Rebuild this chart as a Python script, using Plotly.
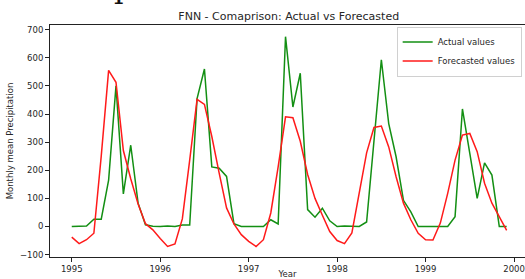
import plotly.graph_objects as go

years = [1995 + m / 12 for m in range(60)]

actual = [0, 0, 2, 26, 26, 165, 500, 116, 289, 83, 6, 1,
          0, 2, 0, 5, 5, 455, 560, 212, 207, 178, 10, 0,
          0, 0, 0, 24, 9, 675, 425, 545, 60, 33, 65, 20,
          0, 2, 0, 0, 16, 310, 593, 366, 248, 93, 52, 0,
          0, 0, 0, 0, 35, 418, 260, 100, 226, 183, 0, 0]

forecast = [-38, -61, -47, -24, 250, 555, 513, 270, 170, 80, 10, -12,
            -43, -71, -62, 27, 236, 452, 434, 320, 190, 66, 9, -29,
            -53, -71, -47, 48, 212, 390, 387, 303, 185, 100, 40, -18,
            -50, -61, -23, 119, 262, 352, 357, 283, 177, 83, 24, -24,
            -47, -48, 12, 118, 236, 325, 331, 266, 154, 83, 35, -14]

x_ticks = [1995, 1996, 1997, 1998, 1999, 2000]
y_ticks = [-100, 0, 100, 200, 300, 400, 500, 600, 700]

FONT = "DejaVu Sans"
TXT = "#262626"
FS = 8.5

fig = go.Figure()
fig.add_trace(go.Scatter(x=years, y=actual, mode="lines", name="Actual values",
                         line=dict(color="#138f13", width=1.5)))
fig.add_trace(go.Scatter(x=years, y=forecast, mode="lines", name="Forecasted values",
                         line=dict(color="#ff1a1a", width=1.5)))

fig.update_layout(
    width=525, height=279,
    margin=dict(l=50, r=0, t=25, b=22),
    paper_bgcolor="white", plot_bgcolor="white",
    font=dict(family=FONT, size=FS, color=TXT),
    title=dict(text="FNN - Comaprison: Actual vs Forecasted", x=0.55, xanchor="center",
               y=1 - 16 / 279, yanchor="middle", font=dict(size=11, color=TXT)),
    legend=dict(x=0.993, xanchor="right", y=0.993, yanchor="top",
                bgcolor="rgba(255,255,255,0.8)", bordercolor="#d0d0d0", borderwidth=1,
                font=dict(size=FS, color=TXT), itemwidth=30, tracegroupgap=0),
    showlegend=True,
)
fig.update_xaxes(range=[1994.754, 2000.124], tickvals=x_ticks, ticktext=[str(v) for v in x_ticks],
                 automargin=False,
                 showgrid=False, zeroline=False, showline=True, linecolor="#222", linewidth=1,
                 mirror=True, ticks="outside", ticklen=4, tickwidth=1, tickcolor="#222",
                 tickfont=dict(size=FS, color=TXT),
                 title=dict(text="Year", standoff=5, font=dict(size=FS, color=TXT)))
fig.update_yaxes(range=[-108.5, 716.5], tickvals=y_ticks,
                 ticktext=[("\u2212100" if v < 0 else str(v)) for v in y_ticks],
                 automargin=False,
                 showgrid=False, zeroline=False, showline=True, linecolor="#222", linewidth=1,
                 mirror=True, ticks="outside", ticklen=4, tickwidth=1, tickcolor="#222",
                 tickfont=dict(size=FS, color=TXT),
                 title=dict(text="Monthly mean Precipitation", standoff=4, font=dict(size=FS, color=TXT)))

fig.add_annotation(text="p", xref="paper", yref="paper", x=(123 - 50) / 475, y=1 + 37 / 232,
                   xanchor="center", yanchor="middle", showarrow=False,
                   font=dict(family="DejaVu Serif", size=30, color="#111"))

fig.write_html("out.html", config={"displayModeBar": False},
               post_script="document.body.style.margin='0';document.body.style.overflow='hidden';")
